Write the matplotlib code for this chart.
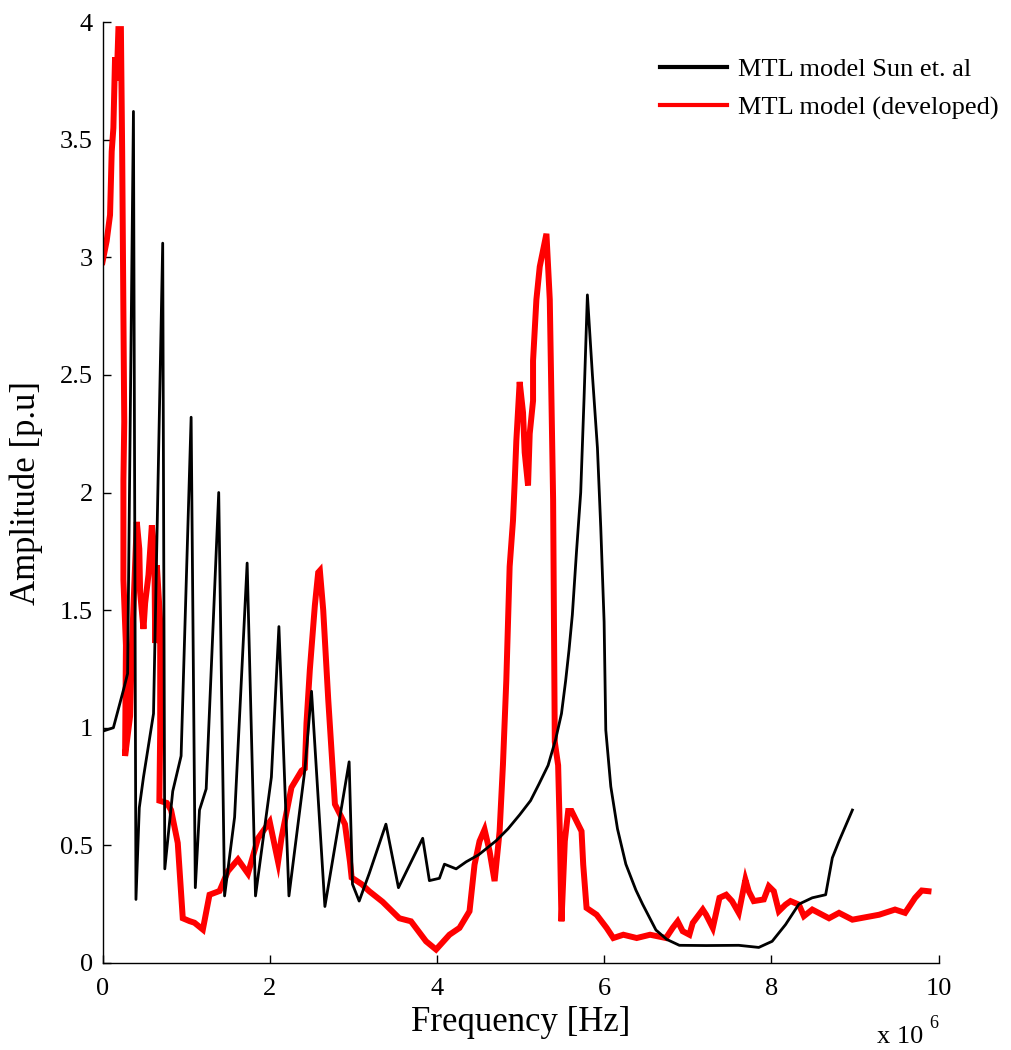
import matplotlib
matplotlib.use("Agg")
import matplotlib.pyplot as plt

# Frequency axis values are in units of 1e6 Hz
sun_freq = [0.00, 0.13, 0.25, 0.30, 0.37, 0.40, 0.44, 0.49, 0.61, 0.72,
            0.745, 0.84, 0.94, 1.06, 1.11, 1.16, 1.24, 1.39, 1.46, 1.58,
            1.73, 1.83, 2.02, 2.11, 2.23, 2.42, 2.50, 2.66, 2.95, 2.99,
            3.07, 3.19, 3.39, 3.54, 3.83, 3.91, 4.03, 4.09, 4.23, 4.35,
            4.50, 4.71, 4.85, 4.99, 5.12, 5.22, 5.33, 5.42, 5.49, 5.54,
            5.58, 5.62, 5.67, 5.72, 5.76, 5.80, 5.86, 5.92, 5.96, 6.00,
            6.02, 6.08, 6.16, 6.26, 6.38, 6.46, 6.62, 6.75, 6.90, 7.22,
            7.61, 7.85, 8.01, 8.17, 8.33, 8.49, 8.65, 8.73, 8.81, 8.97]
sun_amp = [0.985, 1.00, 1.16, 1.23, 3.62, 0.27, 0.66, 0.79, 1.06, 3.06,
           0.40, 0.73, 0.88, 2.32, 0.32, 0.65, 0.74, 2.00, 0.285, 0.62,
           1.70, 0.285, 0.79, 1.43, 0.285, 0.82, 1.155, 0.24, 0.855, 0.335,
           0.263, 0.38, 0.59, 0.32, 0.53, 0.35, 0.36, 0.42, 0.40, 0.43,
           0.46, 0.52, 0.57, 0.63, 0.69, 0.76, 0.84, 0.95, 1.06, 1.20,
           1.33, 1.48, 1.75, 2.00, 2.40, 2.84, 2.50, 2.19, 1.85, 1.45,
           0.99, 0.75, 0.57, 0.42, 0.31, 0.25, 0.14, 0.10, 0.075, 0.074,
           0.075, 0.066, 0.092, 0.163, 0.25, 0.277, 0.29, 0.447, 0.518, 0.65]

dev_freq = [0.00, 0.05, 0.09, 0.11, 0.13, 0.15, 0.17, 0.19, 0.22, 0.235,
            0.245, 0.26, 0.25, 0.25, 0.28, 0.27, 0.33, 0.35, 0.41, 0.44,
            0.45, 0.49, 0.51, 0.55, 0.59, 0.62, 0.63, 0.65, 0.69, 0.69,
            0.68, 0.77, 0.82, 0.90, 0.96, 1.04, 1.10, 1.20, 1.28, 1.40,
            1.50, 1.62, 1.74, 1.86, 2.00, 2.10, 2.14, 2.22, 2.26, 2.38,
            2.42, 2.44, 2.48, 2.54, 2.58, 2.60, 2.64, 2.70, 2.78, 2.90,
            2.96, 2.98, 3.10, 3.19, 3.35, 3.55, 3.69, 3.87, 3.99, 4.15,
            4.27, 4.39, 4.45, 4.51, 4.57, 4.63, 4.69, 4.75, 4.79, 4.83,
            4.87, 4.91, 4.93, 4.95, 4.99, 5.03, 5.05, 5.09, 5.11, 5.15,
            5.15, 5.19, 5.23, 5.31, 5.35, 5.37, 5.39, 5.41, 5.45, 5.47,
            5.49, 5.53, 5.57, 5.61, 5.67, 5.73, 5.75, 5.79, 5.91, 6.03,
            6.11, 6.23, 6.39, 6.55, 6.74, 6.82, 6.88, 6.94, 7.02, 7.06,
            7.18, 7.22, 7.30, 7.38, 7.46, 7.53, 7.61, 7.69, 7.73, 7.79,
            7.91, 7.97, 8.03, 8.09, 8.17, 8.23, 8.33, 8.39, 8.49, 8.69,
            8.81, 8.97, 9.29, 9.48, 9.60, 9.72, 9.80, 9.88]
dev_amp = [2.98, 3.07, 3.18, 3.45, 3.55, 3.85, 3.75, 3.97, 3.97, 3.45,
           3.00, 2.30, 2.05, 1.63, 1.35, 0.88, 1.05, 1.33, 1.875, 1.76,
           1.575, 1.42, 1.53, 1.65, 1.86, 1.76, 1.36, 1.69, 1.45, 0.99,
           0.69, 0.68, 0.65, 0.51, 0.19, 0.178, 0.171, 0.142, 0.29, 0.306,
           0.39, 0.44, 0.38, 0.53, 0.60, 0.43, 0.53, 0.675, 0.746, 0.817,
           0.827, 1.02, 1.247, 1.52, 1.66, 1.668, 1.50, 1.12, 0.675, 0.59,
           0.43, 0.363, 0.335, 0.305, 0.26, 0.19, 0.177, 0.092, 0.057, 0.12,
           0.149, 0.22, 0.418, 0.518, 0.567, 0.475, 0.348, 0.56, 0.844, 1.20,
           1.685, 1.88, 2.04, 2.22, 2.47, 2.34, 2.17, 2.03, 2.25, 2.39,
           2.56, 2.82, 2.96, 3.10, 2.82, 2.39, 1.97, 0.94, 0.84, 0.56,
           0.177, 0.518, 0.646, 0.646, 0.603, 0.56, 0.418, 0.234, 0.205, 0.149,
           0.106, 0.12, 0.106, 0.12, 0.106, 0.149, 0.177, 0.135, 0.12, 0.17,
           0.227, 0.205, 0.149, 0.277, 0.29, 0.263, 0.213, 0.354, 0.305, 0.263,
           0.27, 0.326, 0.305, 0.22, 0.248, 0.263, 0.248, 0.199, 0.227, 0.19,
           0.213, 0.184, 0.205, 0.227, 0.213, 0.277, 0.308, 0.305]

x_ticks = [0, 2, 4, 6, 8, 10]
y_ticks = [0, 0.5, 1, 1.5, 2, 2.5, 3, 3.5, 4]
x_tick_labels = ["0", "2", "4", "6", "8", "10"]
y_tick_labels = ["0", "0.5", "1", "1.5", "2", "2.5", "3", "3.5", "4"]
series_labels = ["MTL model Sun et. al", "MTL model (developed)"]

plt.rcParams["font.family"] = ["Liberation Serif", "DejaVu Serif"]

fig = plt.figure(figsize=(10.11, 10.50), dpi=100)
ax = fig.add_axes([0.1014, 0.0829, 0.8269, 0.8961])

red_line, = ax.plot(dev_freq, dev_amp, color="#ff0000", lw=4.3,
                    solid_joinstyle="miter", zorder=2)
black_line, = ax.plot(sun_freq, sun_amp, color="black", lw=2.0, zorder=3)

ax.set_xlim(0, 10)
ax.set_ylim(0, 4)
ax.set_xticks(x_ticks)
ax.set_xticklabels(x_tick_labels)
ax.set_yticks(y_ticks)
ax.set_yticklabels(y_tick_labels)

for side in ("top", "right"):
    ax.spines[side].set_visible(False)
for side in ("left", "bottom"):
    ax.spines[side].set_linewidth(1.0)

ax.tick_params(axis="both", direction="in", length=6, width=1.0,
               labelsize=19, colors="black")
ax.tick_params(axis="x", pad=11)
ax.tick_params(axis="y", pad=7)

ax.set_xlabel("Frequency [Hz]", fontsize=25, labelpad=4)
ax.set_ylabel("Amplitude [p.u]", fontsize=25, labelpad=12)

leg = fig.legend([black_line, red_line], series_labels,
                 loc="upper left", bbox_to_anchor=(0.653, 0.945),
                 frameon=False, fontsize=19, handlelength=2.55,
                 handletextpad=0.38, labelspacing=0.55,
                 borderpad=0, borderaxespad=0)
for h in leg.legend_handles:
    h.set_linewidth(3.0)

# Scale factor for the frequency axis
fig.text(0.867, 0.0066, "x 10", fontsize=19, ha="left", va="baseline")
fig.text(0.919, 0.021, "6", fontsize=13, ha="left", va="baseline")

fig.savefig("out.png", dpi=100)
